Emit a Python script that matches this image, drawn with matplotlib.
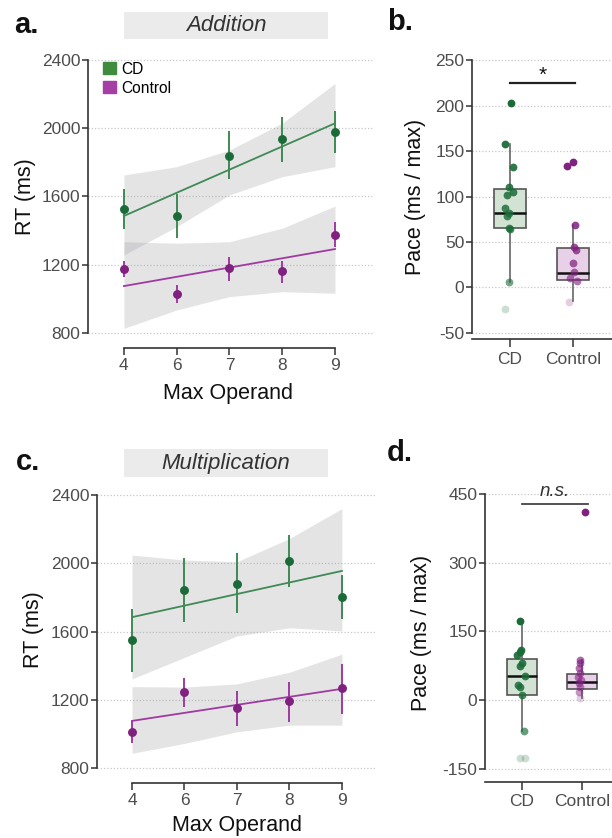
import matplotlib
matplotlib.use('Agg')
import matplotlib.pyplot as plt
import numpy as np
from matplotlib.patches import Patch, Rectangle

plt.rcParams['font.family'] = ['Liberation Sans', 'DejaVu Sans']
plt.rcParams['axes.unicode_minus'] = False

# ---------------- data ----------------
operands = ['4', '6', '7', '8', '9']
groups = ['CD', 'Control']

# Addition (RT means with error bars)
add_cd_mean = [1525, 1488, 1839, 1937, 1978]
add_cd_lo = [1408, 1355, 1701, 1804, 1853]
add_cd_hi = [1642, 1615, 1984, 2068, 2103]
add_ctl_mean = [1175, 1029, 1179, 1161, 1376]
add_ctl_lo = [1126, 974, 1106, 1091, 1306]
add_ctl_hi = [1224, 1081, 1247, 1224, 1452]
add_cd_fit = [1486, 2029]
add_ctl_fit = [1075, 1292]
add_cd_band_hi = [1726, 1775, 1872, 2030, 2263]
add_cd_band_lo = [1257, 1423, 1609, 1716, 1775]
add_ctl_band_hi = [1335, 1326, 1335, 1414, 1544]
add_ctl_band_lo = [827, 935, 1013, 1042, 1033]

# Multiplication
mul_cd_mean = [1550, 1841, 1880, 2013, 1802]
mul_cd_lo = [1364, 1655, 1709, 1861, 1675]
mul_cd_hi = [1733, 2029, 2058, 2164, 1932]
mul_ctl_mean = [1012, 1245, 1152, 1192, 1268]
mul_ctl_lo = [944, 1158, 1047, 1070, 1119]
mul_ctl_hi = [1074, 1328, 1250, 1306, 1409]
mul_cd_fit = [1684, 1955]
mul_ctl_fit = [1076, 1264]
mul_cd_band_hi = [2048, 2019, 2009, 2145, 2320]
mul_cd_band_lo = [1322, 1448, 1574, 1622, 1603]
mul_ctl_band_hi = [1277, 1274, 1293, 1361, 1467]
mul_ctl_band_lo = [886, 944, 1012, 1051, 1051]

# Pace (individual participants)
add_pace_cd = [202.4, 157.7, 132, 110.8, 105.3, 101.6, 87, 82.2, 78.6, 65, 64, 6.4, -24]
add_pace_ctl = [137.6, 133.5, 68.7, 44.2, 41.2, 27.3, 16.7, 10, 7.5, -15.6]
mul_pace_cd = [173.6, 109.6, 106, 98.7, 80.6, 74.6, 53, 33.3, 28.3, 11.3, -66.4, -125, -125]
mul_pace_ctl = [411, 88, 80.6, 69.6, 60, 51.4, 44, 37, 29.6, 18.7, 4.4]

# Box statistics: q1, median, q3, whisker low, whisker high
add_box_cd = [65, 81.5, 108, 6.4, 157.7]
add_box_ctl = [8.3, 16.3, 43, -14.5, 68.7]
mul_box_cd = [11.4, 53.6, 89, -66.4, 174]
mul_box_ctl = [24, 40.5, 57.3, 5.5, 88]

# horizontal jitter of points
add_jit_cd = [0.02, -0.074, 0.042, -0.02, 0.048, -0.048, -0.074, -0.02, -0.048, -0.02, 0.005, -0.02, -0.074]
add_jit_ctl = [-0.005, -0.09, 0.032, 0.016, 0.048, 0.005, 0.02, -0.048, 0.058, -0.063]
mul_jit_cd = [-0.039, -0.017, -0.039, -0.083, 0.0, -0.028, 0.056, -0.072, -0.028, 0.0, 0.028, -0.039, 0.044]
mul_jit_ctl = [0.056, -0.028, -0.039, -0.05, -0.028, -0.072, -0.011, -0.05, -0.028, -0.056, -0.039]

# ---------------- style ----------------
GREEN_PT = '#1b6b38'
PURPLE_PT = '#80207f'
GREEN_LN = '#3f8a55'
PURPLE_LN = '#a03aa3'
GREEN_LEG = '#3f8c3f'
PURPLE_LEG = '#a43fa6'
GREEN_BOX = '#d3e3d3'
PURPLE_BOX = '#e8d0e8'
BAND = '#979a9e'
TICKC = '#4d4d4d'
SPINEC = '#333333'

W, H = 612, 838
fig = plt.figure(figsize=(W / 100, H / 100), dpi=100)


def px_axes(l, t, r, b):
    return fig.add_axes([l / W, 1 - b / H, (r - l) / W, (b - t) / H])


def style_axes(ax):
    for s in ['top', 'right']:
        ax.spines[s].set_visible(False)
    for s in ['left', 'bottom']:
        ax.spines[s].set_color(SPINEC)
        ax.spines[s].set_linewidth(1.2)
    ax.tick_params(axis='both', direction='out', length=4, width=1.1, color=SPINEC,
                   labelsize=12.5, labelcolor=TICKC, pad=1.5)
    ax.grid(axis='y', linestyle=(0, (1, 1.6)), color='#c8c8c8', linewidth=0.9)
    ax.set_axisbelow(True)


def rt_panel(ax, cd_m, cd_lo, cd_hi, ct_m, ct_lo, ct_hi, cd_fit, ct_fit,
             cd_bh, cd_bl, ct_bh, ct_bl, xlim):
    x = np.arange(len(operands))
    ax.fill_between(x, cd_bl, cd_bh, color=BAND, alpha=0.26, linewidth=0, zorder=1)
    ax.fill_between(x, ct_bl, ct_bh, color=BAND, alpha=0.26, linewidth=0, zorder=1)
    ax.plot([x[0], x[-1]], cd_fit, color=GREEN_LN, lw=1.3, zorder=2)
    ax.plot([x[0], x[-1]], ct_fit, color=PURPLE_LN, lw=1.3, zorder=2)
    cd_m = np.array(cd_m); ct_m = np.array(ct_m)
    ax.errorbar(x, cd_m, yerr=[cd_m - np.array(cd_lo), np.array(cd_hi) - cd_m], fmt='o',
                color=GREEN_PT, ecolor=GREEN_LN, elinewidth=1.4, capsize=0, markersize=5.4, zorder=3)
    ax.errorbar(x, ct_m, yerr=[ct_m - np.array(ct_lo), np.array(ct_hi) - ct_m], fmt='o',
                color=PURPLE_PT, ecolor=PURPLE_LN, elinewidth=1.4, capsize=0, markersize=5.4, zorder=3)
    style_axes(ax)
    ax.set_xlim(*xlim)
    ax.set_ylim(712, 2488)
    ax.set_yticks([800, 1200, 1600, 2000, 2400])
    ax.set_xticks(x)
    ax.set_xticklabels(operands)
    ax.spines['left'].set_bounds(800, 2400)
    ax.spines['bottom'].set_bounds(0, 4)
    ax.tick_params(axis='x', length=5, pad=2.5)


def pace_panel(ax, cd_vals, ct_vals, cd_box, ct_box, cd_jit, ct_jit, width, ylim, yticks):
    stats = []
    for lab, b in zip(groups, [cd_box, ct_box]):
        stats.append(dict(label=lab, q1=b[0], med=b[1], q3=b[2], whislo=b[3], whishi=b[4], fliers=[]))
    bp = ax.bxp(stats, positions=[1, 2], widths=width, showcaps=False, showfliers=False,
                patch_artist=True,
                boxprops=dict(edgecolor='#555555', linewidth=1.2),
                whiskerprops=dict(color='#666666', linewidth=1.2),
                medianprops=dict(color='#111111', linewidth=1.8))
    bp['boxes'][0].set_facecolor(GREEN_BOX)
    bp['boxes'][1].set_facecolor(PURPLE_BOX)
    for pos, vals, jit, col in [(1, cd_vals, cd_jit, GREEN_PT), (2, ct_vals, ct_jit, PURPLE_PT)]:
        v = np.array(vals, dtype=float)
        norm = (v - v.min()) / (v.max() - v.min())
        alphas = 0.22 + 0.78 * norm ** 0.35
        for vi, ji, ai in zip(v, jit, alphas):
            ax.plot(pos + ji, vi, 'o', color=col, alpha=ai, markersize=5.6,
                    markeredgewidth=0, zorder=4)
    style_axes(ax)
    ax.set_ylim(*ylim)
    ax.set_yticks(yticks)
    ax.spines['left'].set_bounds(yticks[0], yticks[-1])
    ax.set_xticks([1, 2])
    ax.set_xticklabels(groups)
    ax.tick_params(axis='x', length=6, pad=3)


# ---- panel a ----
axa = px_axes(88, 45, 373, 348)
rt_panel(axa, add_cd_mean, add_cd_lo, add_cd_hi, add_ctl_mean, add_ctl_lo, add_ctl_hi,
         add_cd_fit, add_ctl_fit, add_cd_band_hi, add_cd_band_lo, add_ctl_band_hi, add_ctl_band_lo,
         (-0.68, 4.72))
leg = axa.legend(handles=[Patch(color=GREEN_LEG, label='CD'), Patch(color=PURPLE_LEG, label='Control')],
                 loc='upper left', bbox_to_anchor=(0.052, 0.945), frameon=False, fontsize=11.2,
                 handlelength=0.85, handleheight=0.85, handletextpad=0.35, labelspacing=0.25,
                 borderpad=0, borderaxespad=0)

# ---- panel c ----
axc = px_axes(97, 480, 375, 783)
rt_panel(axc, mul_cd_mean, mul_cd_lo, mul_cd_hi, mul_ctl_mean, mul_ctl_lo, mul_ctl_hi,
         mul_cd_fit, mul_ctl_fit, mul_cd_band_hi, mul_cd_band_lo, mul_ctl_band_hi, mul_ctl_band_lo,
         (-0.667, 4.63))

# ---- panel b ----
axb = px_axes(472, 45, 612, 339)
pace_panel(axb, add_pace_cd, add_pace_ctl, add_box_cd, add_box_ctl, add_jit_cd, add_jit_ctl,
           0.52, (-56.6, 266.5), [-50, 0, 50, 100, 150, 200, 250])
axb.set_xlim(0.397, 2.619)
axb.plot([1, 2.03], [224.4, 224.4], color='#222222', lw=1.6, clip_on=False)
axb.text(1.52, 223, '*', ha='center', va='bottom', fontsize=15, color='#111111')

# ---- panel d ----
axd = px_axes(485, 480, 612, 782)
pace_panel(axd, mul_pace_cd, mul_pace_ctl, mul_box_cd, mul_box_ctl, mul_jit_cd, mul_jit_ctl,
           0.5, (-178.4, 480.5), [-150, 0, 150, 300, 450])
axd.set_xlim(0.383, 2.5)
axd.plot([1, 2.1], [428, 428], color='#444444', lw=1.3, clip_on=False)
axd.text(1.55, 436, 'n.s.', ha='center', va='bottom', fontsize=13.5, style='italic', color='#333333')

# ---- strips ----
for (l, t, r, b), txt in [((124, 12, 328, 39), 'Addition'), ((124, 449, 328, 477), 'Multiplication')]:
    fig.add_artist(Rectangle((l / W, 1 - b / H), (r - l) / W, (b - t) / H, transform=fig.transFigure,
                             facecolor='#ebebeb', edgecolor='none'))
    fig.text((l + r) / 2 / W, 1 - (t + b) / 2 / H, txt, ha='center', va='center',
             fontsize=16, style='italic', color='#333333')

# ---- labels ----
def ftext(x, y, s, **kw):
    fig.text(x / W, 1 - y / H, s, **kw)

ftext(25, 197, 'RT (ms)', rotation=90, ha='center', va='center', fontsize=15.5, color='#111111')
ftext(33, 630, 'RT (ms)', rotation=90, ha='center', va='center', fontsize=15.5, color='#111111')
ftext(415, 197, 'Pace (ms / max)', rotation=90, ha='center', va='center', fontsize=15.5, color='#111111')
ftext(422, 633, 'Pace (ms / max)', rotation=90, ha='center', va='center', fontsize=15.5, color='#111111')
ftext(228, 393, 'Max Operand', ha='center', va='center', fontsize=15.5, color='#111111')
ftext(237, 825, 'Max Operand', ha='center', va='center', fontsize=15.5, color='#111111')

ftext(14, 25, 'a.', ha='left', va='center', fontsize=21, fontweight='bold', color='#111111')
ftext(387, 22, 'b.', ha='left', va='center', fontsize=21, fontweight='bold', color='#111111')
ftext(16, 462, 'c.', ha='left', va='center', fontsize=21, fontweight='bold', color='#111111')
ftext(387, 453, 'd.', ha='left', va='center', fontsize=21, fontweight='bold', color='#111111')

fig.savefig('out.png', dpi=100)
